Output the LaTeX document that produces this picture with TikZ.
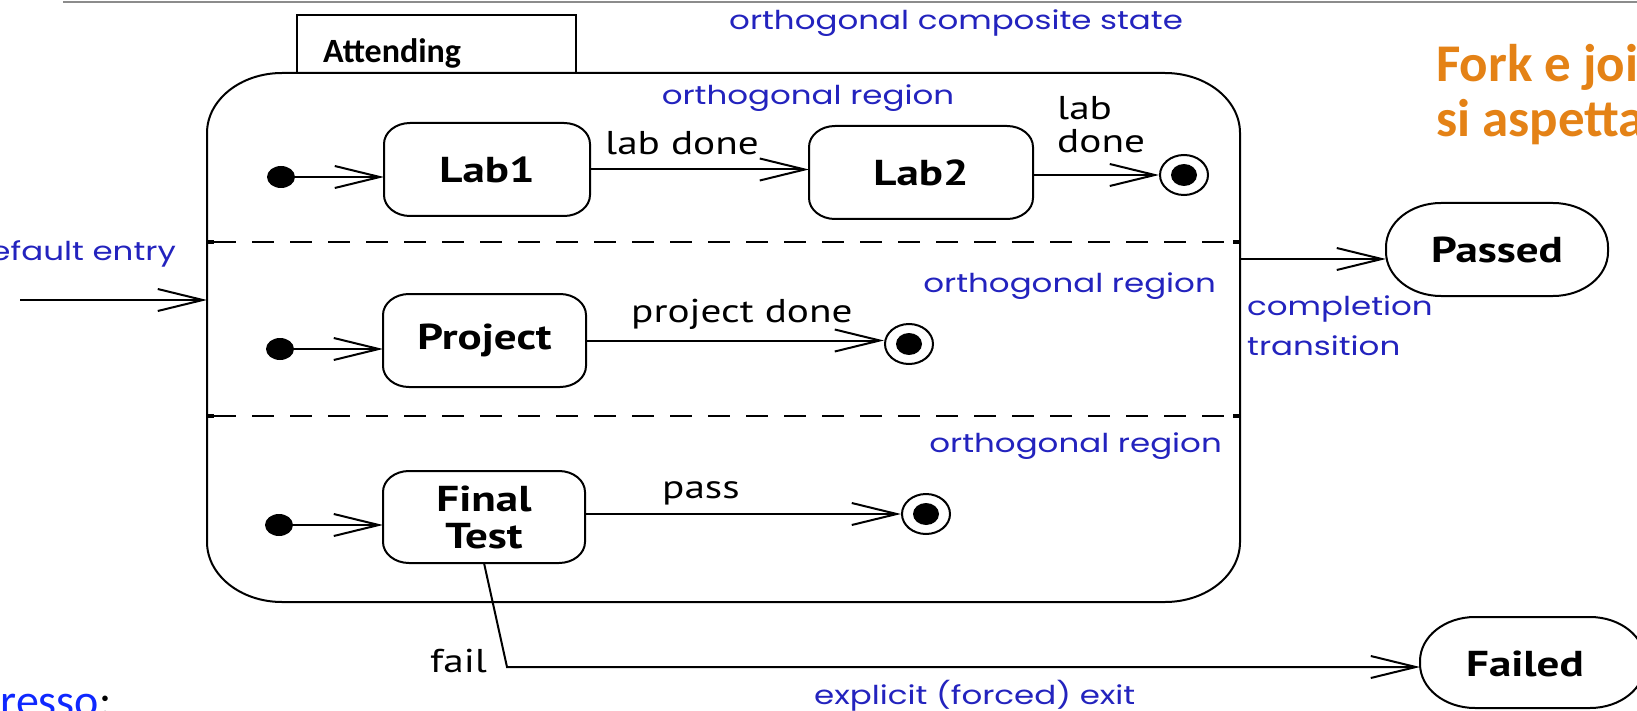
\documentclass[tikz,border=0pt]{standalone}
\usepackage{fontspec}
\usetikzlibrary{arrows.meta,calc,shapes.geometric}
\newfontfamily\lblfont[FakeStretch=1.25]{PT Sans}
\newfontfamily\blufont[FakeStretch=1.25]{Poppins}
\newfontfamily\slidefont{Carlito}
\definecolor{umlblue}{RGB}{35,35,190}
\definecolor{linkblue}{RGB}{15,40,255}
\definecolor{slideorange}{RGB}{228,130,22}
\definecolor{rulegray}{RGB}{140,140,140}
\tikzset{
  stline/.style={line width=2pt,black},
  conn/.style={line width=2pt,-{Straight Barb[length=45pt,width=22pt,line width=2pt]}},
  stbox/.style={inner sep=0pt,outer sep=0pt,align=center,
    font=\lblfont\bfseries\fontsize{36}{37}\selectfont},
  lbl/.style={inner sep=0pt,font=\lblfont\fontsize{33}{35}\selectfont},
  blu/.style={inner sep=0pt,text=umlblue,font=\blufont\fontsize{26}{30}\selectfont},
  initdot/.style={ellipse,fill,minimum width=28pt,minimum height=22pt,inner sep=0pt},
  finst/.style={ellipse,draw,line width=2pt,minimum width=48pt,minimum height=40pt,inner sep=0pt},
  regdash/.style={line width=2pt,dash pattern=on 22pt off 16pt},
}
% frame with elliptical corners around a node: name, x radius, y radius
\newcommand\eframe[3]{%
  \draw[stline] ($(#1.north west)+(#2,0)$) -- ($(#1.north east)+(-#2,0)$)
   .. controls ($(#1.north east)+(-0.448*#2,0)$) and ($(#1.north east)+(0,0.448*#3)$) .. ($(#1.north east)+(0,#3)$)
   -- ($(#1.south east)+(0,-#3)$)
   .. controls ($(#1.south east)+(0,-0.448*#3)$) and ($(#1.south east)+(-0.448*#2,0)$) .. ($(#1.south east)+(-#2,0)$)
   -- ($(#1.south west)+(#2,0)$)
   .. controls ($(#1.south west)+(0.448*#2,0)$) and ($(#1.south west)+(0,-0.448*#3)$) .. ($(#1.south west)+(0,-#3)$)
   -- ($(#1.north west)+(0,#3)$)
   .. controls ($(#1.north west)+(0,0.448*#3)$) and ($(#1.north west)+(0.448*#2,0)$) .. ($(#1.north west)+(#2,0)$) -- cycle;}
\begin{document}
\begin{tikzpicture}[x=1pt,y=-1pt]
\useasboundingbox (0,0) rectangle (1637,711);
\clip (0,0) rectangle (1637,711);
\fill[white] (0,0) rectangle (1637,711);

% slide rule and slide text
\draw[line width=2pt,rulegray] (63,2) -- (1637,2);
\node[inner sep=0pt,anchor=base west,text=slideorange,font=\slidefont\bfseries\fontsize{53}{60}\selectfont] (fork) at (1436,82) {Fork e join};
\node[inner sep=0pt,anchor=base west,text=slideorange,font=\slidefont\bfseries\fontsize{53}{60}\selectfont] (asp) at (1436,137) {si aspetta};
\node[inner sep=0pt,anchor=base west,font=\slidefont\fontsize{46}{50}\selectfont] (ingr) at (-57,716) {\textcolor{linkblue}{Ingresso}:};

% composite state
\node[inner sep=0pt,outer sep=0pt,minimum width=1033pt,minimum height=529pt] (comp) at (723.5,337.5) {};
\eframe{comp}{75}{60}
\node[inner sep=0pt,outer sep=0pt,minimum width=279pt,minimum height=58pt,draw,line width=2pt] (tab) at (436.5,44) {};
\node[inner sep=0pt,anchor=base west,font=\slidefont\bfseries\fontsize{34}{36}\selectfont] (att) at (323,63) {Attending};

% region separators
\draw[regdash] (214,242) -- (1233,242);
\draw[regdash] (214,416) -- (1233,416);
\draw[line width=3.5pt] (207,242) -- (214,242) (1233,242) -- (1240,242);
\draw[line width=3.5pt] (207,416) -- (214,416) (1233,416) -- (1240,416);

% states
\node[stbox,minimum width=206pt,minimum height=93pt] (l1) at (487,169.5) {Lab1};
\eframe{l1}{26}{21}
\node[stbox,minimum width=224pt,minimum height=93pt] (l2) at (921,172.5) {Lab2};
\eframe{l2}{26}{21}
\node[stbox,minimum width=203pt,minimum height=93pt] (pr) at (484.5,340.5) {Project};
\eframe{pr}{26}{21}
\node[stbox,minimum width=202pt,minimum height=92pt] (ft) at (484,517) {Final\\Test};
\eframe{ft}{26}{21}
\node[stbox,minimum width=222pt,minimum height=93pt] (pa) at (1497,249.5) {Passed};
\eframe{pa}{55}{44}
\node[stbox,minimum width=225pt,minimum height=91pt] (fl) at (1532.5,662.5) {};
\eframe{fl}{55}{44}
\node[stbox] (fltext) at (1525,664) {Failed};

% pseudo states
\node[initdot] (d1) at (281,177) {};
\node[initdot] (d2) at (280,349) {};
\node[initdot] (d3) at (279,525) {};
\node[finst] (f1) at (1184,175) {};
\node[finst] (f2) at (909,344) {};
\node[finst] (f3) at (926,514) {};
\fill (f1.center) ellipse [x radius=13, y radius=11];
\fill (f2.center) ellipse [x radius=13, y radius=11];
\fill (f3.center) ellipse [x radius=13, y radius=11];

% connectors
\coordinate (entry) at (20,300);
\draw[conn] (entry) -- (entry -| comp.west);
\draw[conn] (d1) -- (d1 -| l1.west);
\draw[conn] (l1.east) -- (l1.east -| l2.west);
\draw[conn] (f1 -| l2.east) -- (f1.west);
\draw[conn] (d2) -- (d2 -| pr.west);
\draw[conn] (pr.east) -- (pr.east -| f2.west);
\draw[conn] (d3) -- (d3 -| ft.west);
\draw[conn] (f3 -| ft.east) -- (f3.west);
\coordinate (pin) at ([yshift=-9.5pt]pa.west);
\draw[conn] (pin -| comp.east) -- (pin);
\coordinate (fc) at (507,667);
\coordinate (fin) at (1420,667);
\draw[conn] (ft.south) -- (fc) -- (fin);

% labels
\node[blu,anchor=base west] (tcomp) at (729,30) {orthogonal composite state};
\node[blu,anchor=base] (treg1) at (808,105) {orthogonal region};
\node[blu,anchor=base east] (treg2) at (1216,292) {orthogonal region};
\node[blu,anchor=base east] (treg3) at (1222,452) {orthogonal region};
\node[blu,anchor=base east] (tdef) at (176,260) {default entry};
\node[blu,anchor=base west] (tcpl1) at (1247,315) {completion};
\node[blu,anchor=base west] (tcpl2) at (1247,355) {transition};
\node[blu,anchor=base west] (texit) at (814,704) {explicit (forced) exit};
\node[lbl,anchor=base west] (tlab) at (605,155) {lab done};
\node[lbl,anchor=base west] (tlab2a) at (1057,120) {lab};
\node[lbl,anchor=base west] (tlab2b) at (1057,153) {done};
\node[lbl,anchor=base west] (tproj) at (631,322) {project done};
\node[lbl,anchor=base west] (tpass) at (662,498) {pass};
\node[lbl,anchor=base west] (tfail) at (430,672) {fail};
\end{tikzpicture}
\end{document}
